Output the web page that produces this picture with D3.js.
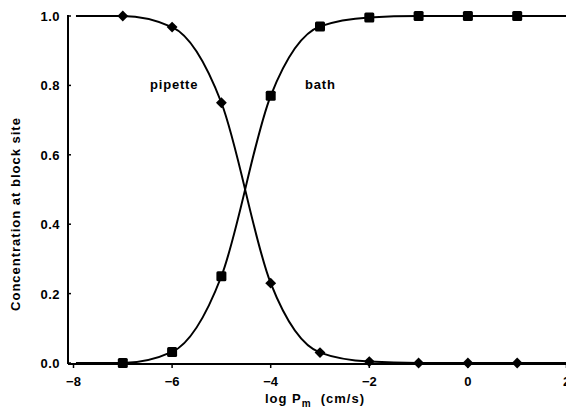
<!doctype html>
<html>
<head>
<meta charset="utf-8" />
<title>block site concentration</title>
<script src="https://cdn.jsdelivr.net/npm/d3@7/dist/d3.min.js"></script>
<style>
  body { margin: 0; background: #fff; }
  text { font-family: "Liberation Sans", Arial, sans-serif; font-weight: bold; fill: #000; }
</style>
</head>
<body>
<svg id="chart" width="566" height="418"></svg>
<script>
// measured points (log Pm vs concentration)
var logPm = [-7, -6, -5, -4, -3, -2, -1, 0, 1];
var pipette = [1.0, 0.968, 0.75, 0.23, 0.03, 0.004, 0.0, 0.0, 0.0];
var bath = [0.0, 0.032, 0.25, 0.77, 0.97, 0.996, 1.0, 1.0, 1.0];

// fitted curve ends (beyond the measured points)
var curveStart = -7.95, curveEnd = 2;
var xTicks = [-8, -6, -4, -2, 0, 2];
var yTicks = [0.0, 0.2, 0.4, 0.6, 0.8, 1.0];

var svg = d3.select('#chart');
var x = d3.scaleLinear().domain([-8, 2]).range([73.5, 566.5]);
var y = d3.scaleLinear().domain([0, 1]).range([363, 16]);

function curvePts(vals, first, last) {
    var pts = [[curveStart, first]];
    logPm.forEach(function(d, i) { pts.push([d, vals[i]]); });
    pts.push([curveEnd, last]);
    return pts;
}

var line = d3.line()
    .x(function(d) { return x(d[0]); })
    .y(function(d) { return y(d[1]); })
    .curve(d3.curveMonotoneX);

// axes
svg.append('line').attr('x1', 68).attr('x2', 68).attr('y1', y(1) - 1).attr('y2', y(0) + 1)
    .attr('stroke', '#000').attr('stroke-width', 2);
svg.append('line').attr('x1', 68).attr('x2', 566).attr('y1', y(0) + 1).attr('y2', y(0) + 1)
    .attr('stroke', '#000').attr('stroke-width', 2);

svg.selectAll('line.ytick').data(yTicks).enter().append('line')
    .attr('class', 'ytick')
    .attr('x1', 68).attr('x2', 71)
    .attr('y1', function(d) { return y(d); }).attr('y2', function(d) { return y(d); })
    .attr('stroke', '#000').attr('stroke-width', 1.5);
svg.selectAll('text.ylab').data(yTicks).enter().append('text')
    .attr('class', 'ylab')
    .attr('x', 60).attr('y', function(d) { return y(d) + 5; })
    .attr('text-anchor', 'end').attr('font-size', 13).attr('letter-spacing', 0.5)
    .text(function(d) { return d3.format('.1f')(d); });

svg.selectAll('line.xtick').data(xTicks).enter().append('line')
    .attr('class', 'xtick')
    .attr('x1', function(d) { return x(d); }).attr('x2', function(d) { return x(d); })
    .attr('y1', y(0) + 1).attr('y2', y(0) + 5)
    .attr('stroke', '#000').attr('stroke-width', 1.5);
svg.selectAll('text.xlab').data(xTicks).enter().append('text')
    .attr('class', 'xlab')
    .attr('x', function(d) { return x(d); }).attr('y', 386)
    .attr('text-anchor', 'middle').attr('font-size', 13)
    .text(function(d) { return d < 0 ? '\u2212' + (-d) : d; });

// axis titles
svg.append('text')
    .attr('transform', 'translate(20,214) rotate(-90)')
    .attr('text-anchor', 'middle').attr('font-size', 13).attr('letter-spacing', 1)
    .text('Concentration at block site');
var xt = svg.append('text').attr('x', 265).attr('y', 403).attr('font-size', 13).attr('letter-spacing', 1);
xt.append('tspan').text('log P');
xt.append('tspan').attr('dy', 4).attr('font-size', 10).text('m');
xt.append('tspan').attr('dy', -4).attr('dx', 9).text('(cm/s)');

// curves
svg.append('path').datum(curvePts(pipette, 1.0, 0.0)).attr('d', line)
    .attr('fill', 'none').attr('stroke', '#000').attr('stroke-width', 2);
svg.append('path').datum(curvePts(bath, 0.0, 1.0)).attr('d', line)
    .attr('fill', 'none').attr('stroke', '#000').attr('stroke-width', 2);

// markers
svg.selectAll('path.dia').data(logPm).enter().append('path')
    .attr('class', 'dia')
    .attr('d', d3.symbol().type(d3.symbolDiamond2).size(75))
    .attr('transform', function(d, i) { return 'translate(' + x(d) + ',' + y(pipette[i]) + ')'; })
    .attr('fill', '#000');
svg.selectAll('rect.sq').data(logPm).enter().append('rect')
    .attr('class', 'sq')
    .attr('x', function(d) { return x(d) - 5; })
    .attr('y', function(d, i) { return y(bath[i]) - 5; })
    .attr('width', 10).attr('height', 10).attr('rx', 1.5)
    .attr('fill', '#000');

// labels
svg.append('text').attr('x', 150).attr('y', 89).attr('font-size', 13).attr('letter-spacing', 0.8).text('pipette');
svg.append('text').attr('x', 305).attr('y', 89).attr('font-size', 13).attr('letter-spacing', 0.8).text('bath');
</script>
</body>
</html>
